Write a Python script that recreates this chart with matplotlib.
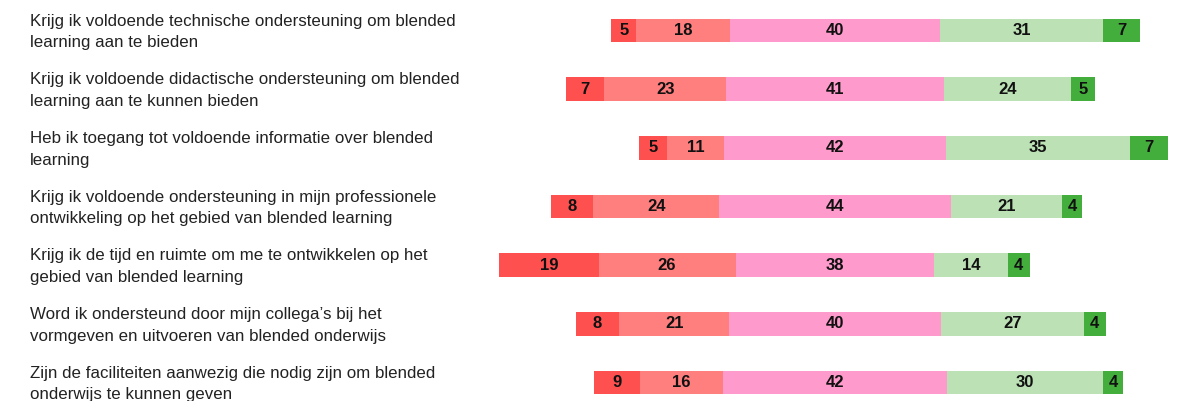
import matplotlib
matplotlib.use("Agg")
import matplotlib.pyplot as plt
import numpy as np

# survey statements (Dutch), top to bottom
statements = [
    "Krijg ik voldoende technische ondersteuning om blended\nlearning aan te bieden",
    "Krijg ik voldoende didactische ondersteuning om blended\nlearning aan te kunnen bieden",
    "Heb ik toegang tot voldoende informatie over blended\nlearning",
    "Krijg ik voldoende ondersteuning in mijn professionele\nontwikkeling op het gebied van blended learning",
    "Krijg ik de tijd en ruimte om me te ontwikkelen op het\ngebied van blended learning",
    "Word ik ondersteund door mijn collega’s bij het\nvormgeven en uitvoeren van blended onderwijs",
    "Zijn de faciliteiten aanwezig die nodig zijn om blended\nonderwijs te kunnen geven",
]

# percentages per answer category (labels are rounded)
strongly_disagree = [4.6, 7.3, 5.3, 7.9, 18.8, 8.2, 8.6]
disagree = [17.8, 23.0, 10.8, 23.8, 25.9, 20.9, 15.8]
neutral = [39.7, 41.2, 41.8, 43.8, 37.6, 39.9, 42.3]
agree = [30.8, 24.0, 34.8, 21.1, 13.9, 27.1, 29.6]
strongly_agree = [7.1, 4.6, 7.3, 3.6, 4.1, 4.1, 3.7]

colors = ["#FF5050", "#FF7F7F", "#FF9BCC", "#BBE1B5", "#44AE3C"]

W, H = 1192, 401
fig = plt.figure(figsize=(W / 100, H / 100), dpi=100)
ax = fig.add_axes([0, 0, 1, 1])

# layout in pixels: neutral centre at x=835, 5.29 px per percent
cx, ppu = 835, 5.29
row0, step = 30.5, 58.67
ax.set_xlim(-cx / ppu, (W - cx) / ppu)
ax.set_ylim((H - row0) / step, -row0 / step)
ax.axis("off")

series = np.array([strongly_disagree, disagree, neutral, agree, strongly_agree])
y = np.arange(len(statements))
left = -series[0] - series[1] - series[2] / 2

for k in range(series.shape[0]):
    ax.barh(y, series[k], left=left, height=0.4, color=colors[k], linewidth=0)
    for i in range(len(y)):
        ax.text(left[i] + series[k][i] / 2, y[i], f"{round(series[k][i])}",
                ha="center", va="center", fontsize=12, fontweight="bold",
                family="Liberation Sans", color="#111111")
    left = left + series[k]

for i, s in enumerate(statements):
    ax.text(30 / W, 1 - (row0 + 1.5 + step * i) / H, s, transform=fig.transFigure,
            ha="left", va="center", fontsize=12.2, family="Liberation Sans",
            color="#222222", linespacing=1.55)

fig.savefig("out.png", dpi=100)
